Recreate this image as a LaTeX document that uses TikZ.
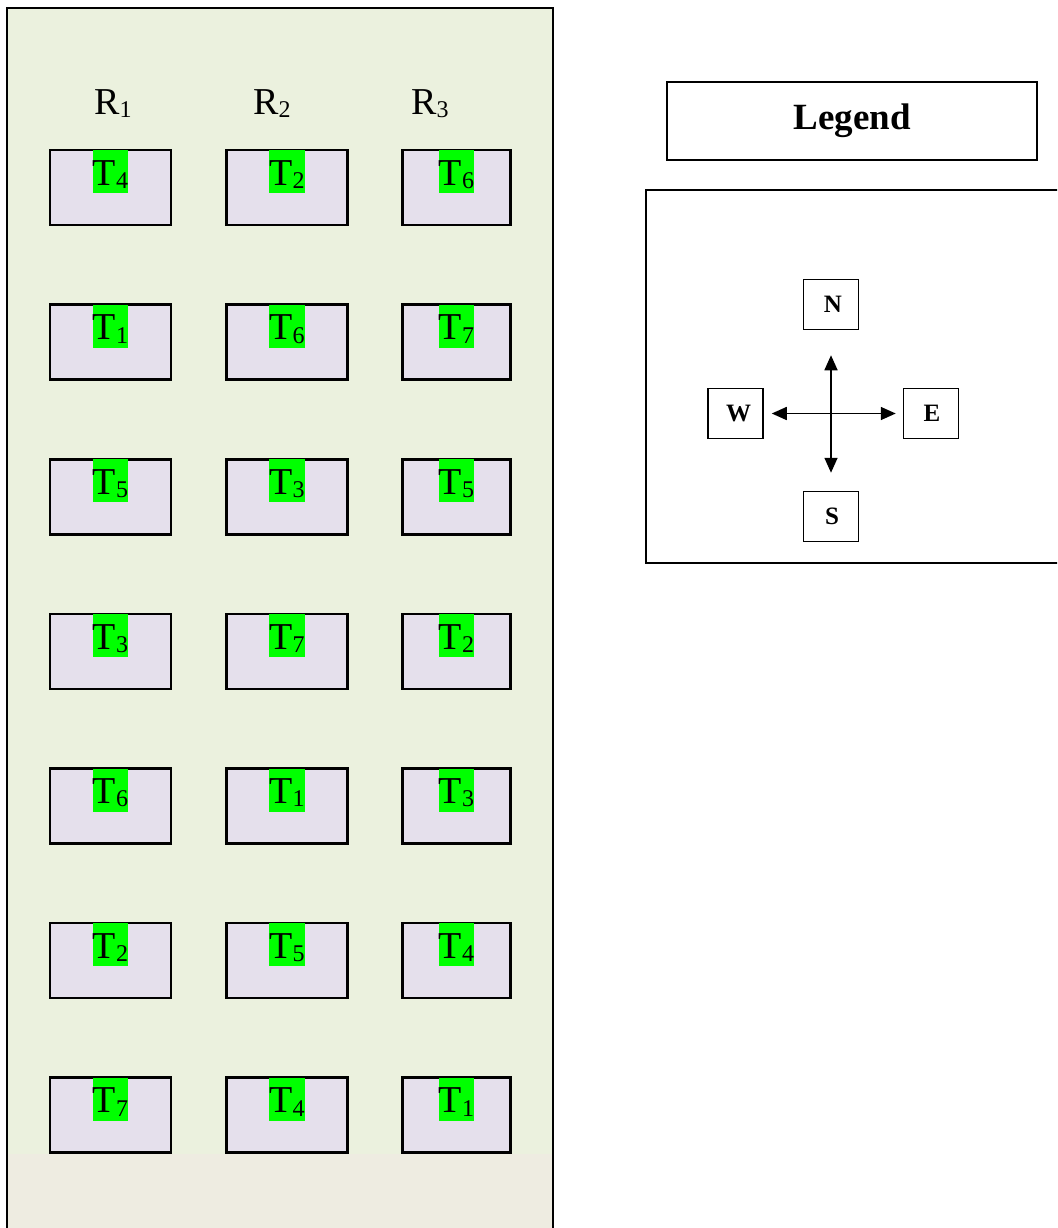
\documentclass[tikz,border=0pt]{standalone}
\usepackage{fontspec}
\setmainfont{Liberation Serif}
\usetikzlibrary{arrows.meta}
\definecolor{fieldgreen}{HTML}{EBF1DE}
\definecolor{fieldbeige}{HTML}{EEECE1}
\definecolor{plotfill}{HTML}{E5E0EC}
\definecolor{hl}{HTML}{00FF00}
\newcommand\subl[2]{#1\raisebox{-3.3pt}{\fontsize{24}{24}\selectfont #2}}
\tikzset{
  plotbox/.style={draw=black,line width=2.6pt,fill=plotfill,minimum width=#1,minimum height=75pt,inner sep=0pt},
  tlabel/.style={fill=hl,inner xsep=0pt,inner ysep=0pt,text height=35pt,text depth=8pt,font=\fontsize{38}{42}\selectfont,anchor=north},
  rlabel/.style={inner sep=0pt,font=\fontsize{38}{42}\selectfont,anchor=base},
  dirbox/.style={draw=black,line width=1.5pt,minimum width=55pt,minimum height=50pt,inner sep=0pt,font=\bfseries\fontsize{25}{28}\selectfont},
  arr/.style={line width=1.6pt,{Triangle[length=15pt,width=13pt]}-{Triangle[length=15pt,width=13pt]}}
}
\begin{document}
\begin{tikzpicture}[x=1pt,y=-1pt]
\useasboundingbox (0,0) rectangle (1057,1228);
\clip (0,0) rectangle (1057,1228);
% field
\fill[fieldgreen] (7,8) rectangle (553,1154);
\fill[fieldbeige] (7,1154) rectangle (553,1240);
\draw[line width=2pt] (7,1240) -- (7,8) -- (553,8) -- (553,1240);
% row labels
\node[rlabel] (r1) at (113,114) {\subl{R}{1}};
\node[rlabel] (r2) at (272,114) {\subl{R}{2}};
\node[rlabel] (r3) at (430,114) {\subl{R}{3}};
% plots
\foreach \i/\a/\b/\c in {0/4/2/6,1/1/6/7,2/5/3/5,3/3/7/2,4/6/1/3,5/2/5/4,6/7/4/1}{
  \pgfmathsetmacro\yc{187.5+154.6*\i}
  \node[plotbox=121pt] (p\i a) at (110.5,\yc) {};
  \node[plotbox=121pt] (p\i b) at (287,\yc) {};
  \node[plotbox=108pt] (p\i c) at (456.5,\yc) {};
  \node[tlabel] (t\i a) at ([yshift=-1.3pt]p\i a.north) {\subl{T}{\a}};
  \node[tlabel] (t\i b) at ([yshift=-1.3pt]p\i b.north) {\subl{T}{\b}};
  \node[tlabel] (t\i c) at ([yshift=-1.3pt]p\i c.north) {\subl{T}{\c}};
}
% legend
\node[draw=black,line width=1.5pt,minimum width=370pt,minimum height=78pt,inner sep=0pt,font=\bfseries\fontsize{37}{40}\selectfont] (legend) at (852,121) {Legend};
\draw[line width=1.5pt] (1070,190) -- (646,190) -- (646,563) -- (1070,563);
\node[dirbox] (N) at (831,304.5) {\hspace{4pt}N};
\node[dirbox] (S) at (831,516.5) {\hspace{2pt}S};
\node[dirbox] (W) at (735.5,413.5) {\hspace{6pt}W};
\node[dirbox] (E) at (931,413.5) {\hspace{2pt}E};
\draw[arr,shorten <=8pt,shorten >=7pt] (W.east) -- (E.west);
\draw[arr,shorten <=25pt,shorten >=18pt] (N.south) -- (S.north);
\end{tikzpicture}
\end{document}
